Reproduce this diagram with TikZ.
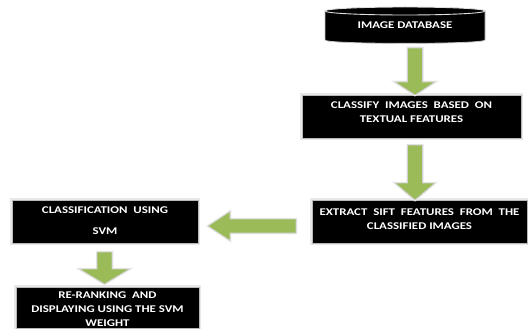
\documentclass[tikz,border=0pt]{standalone}
\usepackage{fontspec}
\setmainfont{Carlito}[FakeStretch=1.25]
\usetikzlibrary{calc}
\definecolor{arrgreen}{RGB}{155,187,89}
\begin{document}
\begin{tikzpicture}[x=1pt,y=-1pt,
  box/.style={fill=black, draw=gray!55, line width=0.8pt, inner sep=0pt,
    preaction={draw=gray!18, line width=3.5pt}},
  txt/.style={text=white, font=\fontsize{10.3}{14}\selectfont\bfseries, align=center, inner sep=0pt},
  garrow/.style={fill=arrgreen, draw=gray!35, line width=0.7pt, line join=miter,
    preaction={draw=white!85!gray, line width=2.5pt}}
]
\useasboundingbox (0,0) rectangle (528,329);

% cylinder
\filldraw[fill=black, draw=gray!45, line width=0.8pt] (325,11) -- (325,40)
  .. controls (325,44.5) and (485,44.5) .. (485,40) -- (485,11) -- cycle;
\filldraw[fill=black, draw=white!75!gray, line width=0.9pt] (405,11) ellipse [x radius=80, y radius=4];
\node[txt] (db) at (405,25.5) {IMAGE DATABASE};

% boxes
\node[box, minimum width=219pt, minimum height=43pt] (b2) at (411.5,116.5) {};
\node[txt] (t2) at (411.5,112) {CLASSIFY\ \ IMAGES\ \ BASED\ \ ON\\TEXTUAL FEATURES};

\node[box, minimum width=215pt, minimum height=43pt] (b3) at (419.5,221.5) {};
\node[txt] (t3) at (419.5,219.5) {EXTRACT\ \ SIFT\ \ FEATURES\ \ FROM\ \ THE\\CLASSIFIED IMAGES};

\node[box, minimum width=186pt, minimum height=43pt] (b4) at (105,221.5) {};
\node[txt] (t4) at (105,220.5) {CLASSIFICATION\ \ USING\\[7pt]SVM};

\node[box, minimum width=183pt, minimum height=41pt] (b5) at (107.5,307.5) {};
\node[txt] (t5) at (107.5,309.5) {RE-RANKING\ \ AND\\DISPLAYING USING THE SVM\\WEIGHT};

% arrow end points
\coordinate (a1s) at (415,48);  \coordinate (a1e) at (415,95);
\coordinate (a2s) at (415,145); \coordinate (a2e) at (415,200);
\coordinate (a3s) at (296,226); \coordinate (a3e) at (208,226);
\coordinate (a4s) at (104.5,252); \coordinate (a4e) at (104.5,284);

% down arrows
\draw[garrow] ($(a1s)+(-7.5,0)$) -- ($(a1e)+(-7.5,-13)$) -- ($(a1e)+(-20,-13)$) -- (a1e)
  -- ($(a1e)+(20,-13)$) -- ($(a1e)+(7.5,-13)$) -- ($(a1s)+(7.5,0)$) -- cycle;
\draw[garrow] ($(a2s)+(-7.5,0)$) -- ($(a2e)+(-7.5,-17)$) -- ($(a2e)+(-20,-17)$) -- (a2e)
  -- ($(a2e)+(20,-17)$) -- ($(a2e)+(7.5,-17)$) -- ($(a2s)+(7.5,0)$) -- cycle;
\draw[garrow] ($(a4s)+(-7.5,0)$) -- ($(a4e)+(-7.5,-15)$) -- ($(a4e)+(-25,-15)$) -- (a4e)
  -- ($(a4e)+(25,-15)$) -- ($(a4e)+(7.5,-15)$) -- ($(a4s)+(7.5,0)$) -- cycle;
% left arrow
\draw[garrow] ($(a3s)+(0,-7)$) -- ($(a3e)+(22,-7)$) -- ($(a3e)+(22,-14.5)$) -- (a3e)
  -- ($(a3e)+(22,14.5)$) -- ($(a3e)+(22,7)$) -- ($(a3s)+(0,7)$) -- cycle;
\end{tikzpicture}
\end{document}
